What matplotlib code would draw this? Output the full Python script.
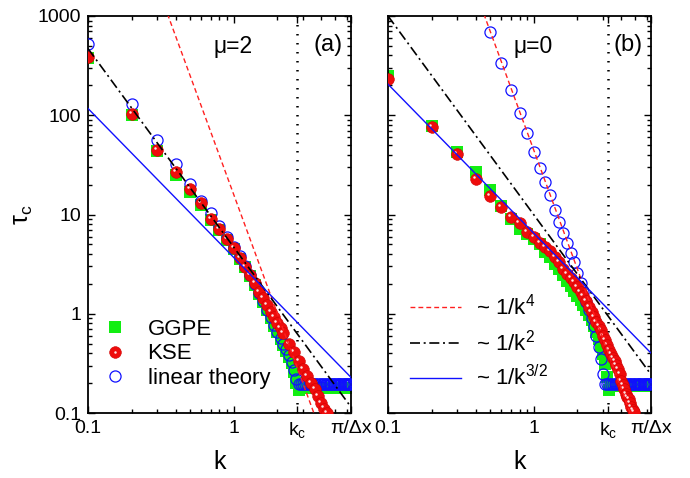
import numpy as np
import matplotlib
matplotlib.use('Agg')
import matplotlib.pyplot as plt
from matplotlib.transforms import offset_copy
from matplotlib.lines import Line2D
from matplotlib.ticker import FixedLocator, NullFormatter, FixedFormatter, LogLocator

plt.rcParams['font.family'] = ['Liberation Sans', 'DejaVu Sans']
plt.rcParams['mathtext.fontset'] = 'custom'
plt.rcParams['mathtext.rm'] = 'Liberation Sans'
plt.rcParams['mathtext.it'] = 'Liberation Sans'

# ---------------- data: panel (a), mu = 2 ----------------
ka_ggpe = [0.1, 0.2, 0.3, 0.4, 0.5, 0.6, 0.7, 0.8, 0.9, 1.0, 1.1, 1.2, 1.3, 1.4, 1.5, 1.6, 1.7,
           1.8, 1.9, 2.0, 2.1, 2.2, 2.3, 2.4, 2.5, 2.6, 2.7,
           2.8, 2.9, 3.0, 3.1, 3.2, 3.3, 3.4, 3.5, 3.6, 3.7, 3.8, 3.9, 4.0, 4.1, 4.2, 4.3, 4.4,
           4.5, 4.6, 4.7, 4.8, 4.9, 5.0, 5.1, 5.2, 5.3, 5.4, 5.5, 5.6, 5.7, 5.8, 5.9, 6.0, 6.1,
           6.2, 6.3]
ta_ggpe = [375, 100, 44, 25, 17, 12.5, 8.8, 6.9, 5.5, 4.5, 3.6, 2.95, 2.4, 1.95, 1.58, 1.3, 1.08,
           0.9, 0.76, 0.65, 0.56, 0.48, 0.42, 0.37, 0.32, 0.26, 0.2,
           0.17, 0.18, 0.18, 0.18, 0.18, 0.18, 0.18, 0.18, 0.18, 0.18, 0.18, 0.18, 0.18, 0.18, 0.18,
           0.18, 0.18, 0.18, 0.18, 0.18, 0.18, 0.18, 0.18, 0.18, 0.18, 0.18, 0.18, 0.18, 0.18,
           0.18, 0.18, 0.18, 0.18, 0.18, 0.18, 0.18]
ka_kse = [0.1, 0.2, 0.3, 0.4, 0.5, 0.6, 0.7, 0.8, 0.9, 1.0, 1.1, 1.2, 1.3, 1.4, 1.5, 1.6, 1.7,
          1.8, 1.9, 2.0, 2.1, 2.2, 2.4, 2.6, 2.8, 3.0, 3.2, 3.4, 3.6, 3.8, 4.0, 4.2, 4.4]
ta_kse = [386, 103, 44.7, 26.8, 18, 13, 9.0, 7.1, 5.7, 4.6, 3.62, 2.98, 2.46, 2.03, 1.67, 1.43,
          1.22, 1.05, 0.93, 0.80, 0.72, 0.64, 0.50, 0.415, 0.335, 0.28, 0.238, 0.2, 0.173, 0.148,
          0.127, 0.111, 0.1]
ka_lin = ka_ggpe
ta_lin = [522, 130, 56, 32.3, 20.3, 13.7, 10.4, 7.66, 6.0, 4.75, 3.8, 3.05, 2.45, 1.98, 1.6, 1.33,
          1.1, 0.92, 0.77, 0.66, 0.57, 0.5, 0.44, 0.38, 0.33, 0.27, 0.22,
          0.195, 0.195, 0.195, 0.195, 0.195, 0.195, 0.195, 0.195, 0.195, 0.195, 0.195, 0.195, 0.195,
          0.195, 0.195, 0.195, 0.195, 0.195, 0.195, 0.195, 0.195, 0.195, 0.195, 0.195, 0.195,
          0.195, 0.195, 0.195, 0.195, 0.195, 0.195, 0.195, 0.195, 0.195, 0.195, 0.195]

# ---------------- data: panel (b), mu = 0 ----------------
kb_ggpe = [0.1, 0.2, 0.3, 0.4, 0.5, 0.6, 0.7, 0.8, 0.9, 1.0, 1.1, 1.2, 1.3, 1.4, 1.5, 1.6, 1.7,
           1.8, 1.9, 2.0, 2.1, 2.2, 2.3, 2.4, 2.5, 2.6, 2.7, 2.8, 2.9, 3.0, 3.1, 3.2,
           3.3, 3.4, 3.5, 3.6, 3.7, 3.8, 3.9, 4.0, 4.1, 4.2, 4.3, 4.4, 4.5, 4.6, 4.7, 4.8, 4.9,
           5.0, 5.1, 5.2, 5.3, 5.4, 5.5, 5.6, 5.7, 5.8, 5.9, 6.0, 6.1, 6.2, 6.3]
tb_ggpe = [250, 78, 43, 27, 17.5, 12.3, 9.0, 7.2, 6.4, 5.6, 5.0, 4.2, 3.7, 3.2, 2.8, 2.45, 2.15,
           1.9, 1.7, 1.52, 1.38, 1.22, 1.08, 0.97, 0.86, 0.75, 0.65, 0.56, 0.47, 0.39, 0.31, 0.23,
           0.17, 0.185, 0.185, 0.185, 0.185, 0.185, 0.185, 0.185, 0.185, 0.185, 0.185, 0.185,
           0.185, 0.185, 0.185, 0.185, 0.185, 0.185, 0.185, 0.185, 0.185, 0.185, 0.185, 0.185,
           0.185, 0.185, 0.185, 0.185, 0.185, 0.185, 0.185]
kb_kse = [0.1, 0.2, 0.3, 0.4, 0.5, 0.6, 0.7, 0.8, 0.9, 1.0, 1.1, 1.2, 1.3, 1.4, 1.5, 1.6, 1.7,
          1.8, 1.9, 2.0, 2.1, 2.2, 2.3, 2.4, 2.5, 2.6, 2.7, 2.8, 2.9, 3.0, 3.1, 3.2, 3.3, 3.4,
          3.5, 3.6, 3.7, 3.8, 3.9, 4.0, 4.1, 4.2, 4.3, 4.4, 4.5, 4.6, 4.7, 4.8, 4.9]
tb_kse = [232, 75.6, 40.4, 22.6, 15.4, 12.0, 9.4, 8.2, 6.6, 5.9, 5.2, 4.7, 4.3, 3.7, 3.35, 2.85,
          2.52, 2.3, 2.08, 1.86, 1.66, 1.5, 1.33, 1.17, 1.04, 0.92, 0.83, 0.75, 0.68, 0.6, 0.54,
          0.48, 0.43, 0.39, 0.36, 0.335, 0.305, 0.275, 0.245, 0.212, 0.19, 0.173, 0.156, 0.146,
          0.137, 0.126, 0.116, 0.108, 0.102]
kb_lin = [0.5, 0.6, 0.7, 0.8, 0.9, 1.0, 1.1, 1.2, 1.3, 1.4, 1.5, 1.6, 1.7, 1.8, 1.9, 2.0, 2.1,
          2.2, 2.3, 2.4, 2.5, 2.6, 2.7, 2.8, 2.9, 3.0,
          3.1, 3.2, 3.3, 3.4, 3.5, 3.6, 3.7, 3.8, 3.9, 4.0, 4.1, 4.2, 4.3, 4.4, 4.5, 4.6, 4.7,
          4.8, 4.9, 5.0, 5.1, 5.2, 5.3, 5.4, 5.5, 5.6, 5.7, 5.8, 5.9, 6.0, 6.1, 6.2, 6.3]
tb_lin = [695, 334, 180, 106, 65.8, 43, 29.2, 21.1, 15.6, 11.0, 8.5, 6.5, 5.2, 4.1, 3.3, 2.6, 2.05,
          1.65, 1.32, 1.1, 0.9, 0.75, 0.6, 0.46, 0.35, 0.25,
          0.195, 0.195, 0.195, 0.195, 0.195, 0.195, 0.195, 0.195, 0.195, 0.195, 0.195, 0.195,
          0.195, 0.195, 0.195, 0.195, 0.195, 0.195, 0.195, 0.195, 0.195, 0.195, 0.195, 0.195,
          0.195, 0.195, 0.195, 0.195, 0.195, 0.195, 0.195, 0.195, 0.195]

# power-law guide lines  tau = A / k^n
powers = [4, 2, 1.5]
amp_a = [16, 4.7, 3.7]
amp_b = [45, 10, 6.5]
kc_a, kc_b = 2.72, 3.26
k_max = 6.4
k_lo = 0.1

fig = plt.figure(figsize=(6.9, 4.78), dpi=100)
ax_a = fig.add_axes([88/690, 1-413/478, 263/690, 397/478])
ax_b = fig.add_axes([388/690, 1-413/478, 263/690, 397/478])

GREEN = '#12ee12'
RED = '#ee0c0c'
BLUE = '#1010ff'

line_styles = [dict(color='#ff2020', lw=1.0, dashes=(3.5, 2.2)),
               dict(color='black', lw=1.2, dashes=(6, 2.2, 1.2, 2.2)),
               dict(color='#1010ff', lw=1.0, ls='-')]
line_labels = ['~ 1/k$^{4}$', '~ 1/k$^{2}$', '~ 1/k$^{3/2}$']

BALL_MS = 8.4
HL_MS = 1.8
HL_COLOR = 'white'


def draw(ax, kg, tg, kk, tk, kl, tl, amps, kc, mu, tag):
    ax.plot(kg, tg, 's', ms=8, color=GREEN, mec=GREEN, mew=0, zorder=2)
    ax.plot(kl, tl, 'o', ms=8, mfc='none', mec=BLUE, mew=0.9, zorder=3)
    ax.plot(kk, tk, 'o', ms=BALL_MS, color=RED, mec='#d00000', mew=0.4, zorder=4)
    hl = offset_copy(ax.transData, fig=fig, x=-1.5, y=1.5, units='points')
    ax.plot(kk, tk, 'o', ms=HL_MS, color=HL_COLOR, mew=0, alpha=0.9, transform=hl, zorder=5)
    kline = np.geomspace(k_lo, k_max, 200)
    for A, n, st in zip(amps, powers, line_styles):
        ax.plot(kline, A / kline**n, zorder=6, **st)
    ax.axvline(kc, color='black', lw=1.8, dashes=(0.6, 3.0), zorder=1)
    ax.set_xscale('log')
    ax.set_yscale('log')
    ax.set_xlim(k_lo, k_max)
    ax.set_ylim(0.1, 1000)
    ax.xaxis.set_major_locator(FixedLocator([0.1, 1, kc, k_max]))
    ax.xaxis.set_major_formatter(FixedFormatter(['0.1', '1', 'k$_\\mathregular{c}$', 'π/Δx']))
    ax.xaxis.set_minor_locator(FixedLocator([0.2, 0.3, 0.4, 0.5, 0.6, 0.7, 0.8, 0.9, 2, 3, 4, 5, 6]))
    ax.xaxis.set_minor_formatter(NullFormatter())
    ax.yaxis.set_major_locator(FixedLocator([0.1, 1, 10, 100, 1000]))
    ax.yaxis.set_minor_locator(LogLocator(base=10, subs=np.arange(2, 10), numticks=20))
    ax.yaxis.set_minor_formatter(NullFormatter())
    ax.tick_params(which='both', direction='in', top=True, right=True, width=1.0,
                   labelsize=14)
    ax.tick_params(which='major', length=5, pad=5)
    ax.tick_params(which='minor', length=3)
    for sp in ax.spines.values():
        sp.set_linewidth(1.3)
    ax.set_xlabel('k', fontsize=18, labelpad=7)
    ax.text(0.551, 0.922, mu, transform=ax.transAxes, fontsize=16.5, ha='center', va='center')
    ax.text(0.912, 0.927, tag, transform=ax.transAxes, fontsize=17, ha='center', va='center')


draw(ax_a, ka_ggpe, ta_ggpe, ka_kse, ta_kse, ka_lin, ta_lin, amp_a, kc_a, 'μ=2', '(a)')
draw(ax_b, kb_ggpe, tb_ggpe, kb_kse, tb_kse, kb_lin, tb_lin, amp_b, kc_b, 'μ=0', '(b)')
ax_a.yaxis.set_major_formatter(FixedFormatter(['0.1', '1', '10', '100', '1000']))
ax_b.yaxis.set_major_formatter(NullFormatter())
ax_a.set_ylabel('τ$_\\mathregular{c}$', fontsize=18, labelpad=2)

# legend (a): markers
h_g = Line2D([], [], ls='none', marker='s', ms=8, color=GREEN, mew=0)
h_k = (Line2D([], [], ls='none', marker='o', ms=BALL_MS, color=RED, mec='#d00000', mew=0.4),
       Line2D([], [], ls='none', marker='o', ms=HL_MS, color=HL_COLOR, mew=0, alpha=0.9))
h_l = Line2D([], [], ls='none', marker='o', ms=8, mfc='none', mec=BLUE, mew=0.9)
ax_a.legend([h_g, h_k, h_l], ['GGPE', 'KSE', 'linear theory'], loc='lower left',
            bbox_to_anchor=(0.045, 0.05), frameon=False, fontsize=16, handlelength=1.0,
            handletextpad=0.95, labelspacing=0.15, borderpad=0.2, borderaxespad=0)

# legend (b): lines
hb = [Line2D([], [], **st) for st in line_styles]
ax_b.legend(hb, line_labels, loc='lower left', bbox_to_anchor=(0.065, 0.045), frameon=False,
            fontsize=16, handlelength=2.3, handletextpad=0.7, labelspacing=0.45,
            borderpad=0.2, borderaxespad=0)

fig.savefig('out.png', dpi=100)
